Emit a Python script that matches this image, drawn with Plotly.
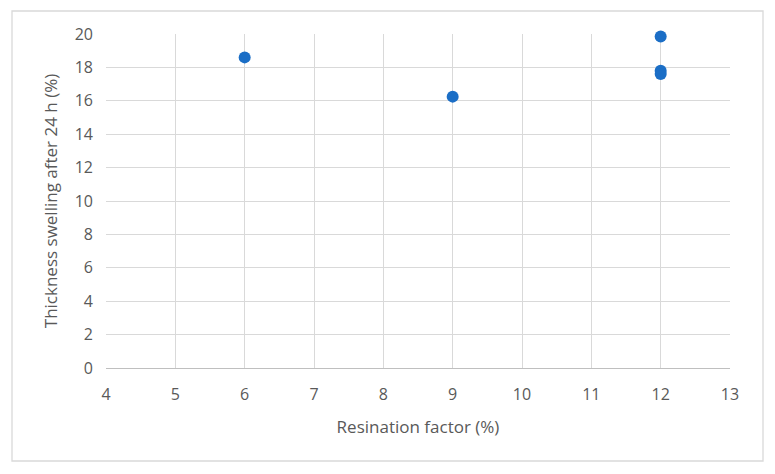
import plotly.graph_objects as go

resination = [6, 9, 12, 12, 12]
swelling = [18.6, 16.25, 19.85, 17.8, 17.6]

OFF = 8  # default page body margin
W, H = 775 - OFF, 474 - OFF
L, R, T, B = 106 - OFF, 45, 34 - OFF, 106
pw, ph = W - L - R, H - T - B

fig = go.Figure()
fig.add_trace(go.Scatter(x=resination, y=swelling, mode="markers",
                         marker=dict(size=12, color="#1B6EC6"),
                         cliponaxis=False, showlegend=False))

font = dict(family="Open Sans, Liberation Sans, sans-serif", color="#595959", size=16)
fig.update_layout(
    width=W, height=H,
    margin=dict(l=L, r=R, t=T, b=B),
    paper_bgcolor="white", plot_bgcolor="white",
    font=font,
    xaxis=dict(range=[4, 13], dtick=1, showgrid=True, gridcolor="#D9D9D9",
               showline=True, linecolor="#BFBFBF", zeroline=False, ticks="",
               ticklabelstandoff=12,
               title=dict(text="Resination factor (%)", font=dict(size=17, color="#595959"), standoff=16)),
    yaxis=dict(range=[0, 20], dtick=2, showgrid=True, gridcolor="#D9D9D9",
               showline=False, zeroline=False, ticks="",
               ticklabelstandoff=12,
               title=dict(text="Thickness swelling after 24 h (%)", font=dict(size=17, color="#595959"), standoff=12)),
)
fig.add_shape(type="rect", xref="paper", yref="paper",
              x0=(12 - OFF - L) / pw, x1=(763 - OFF - L) / pw,
              y0=(H - B - (461 - OFF)) / ph, y1=(H - B - (11 - OFF)) / ph,
              line=dict(color="#D9D9D9", width=1.3), layer="below")
fig.write_html("out.html")
